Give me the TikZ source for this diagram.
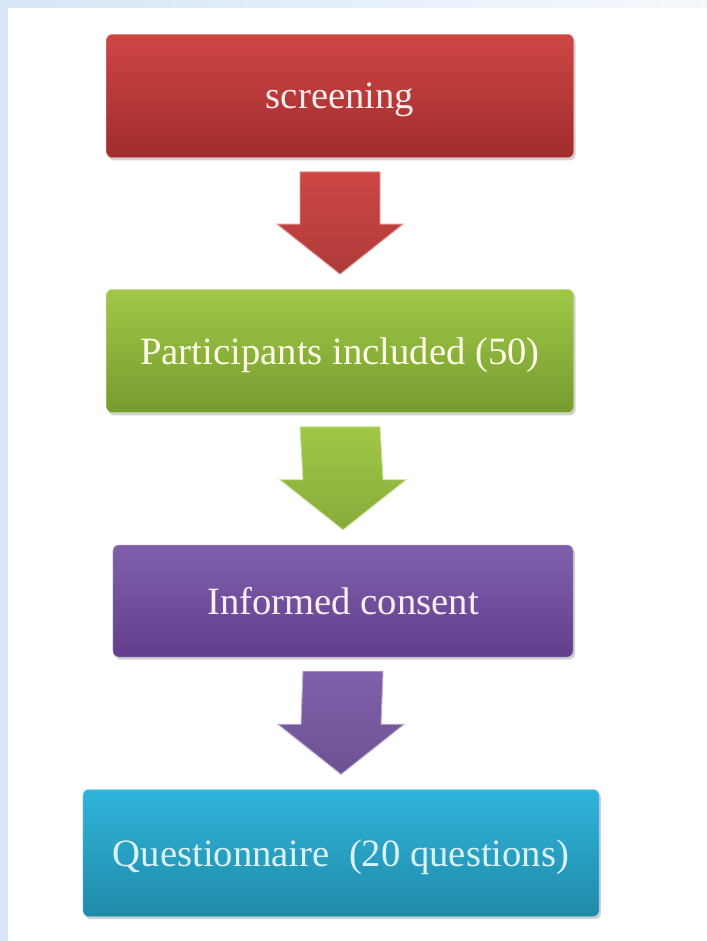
\documentclass[tikz,border=0pt]{standalone}
\usepackage{fontspec}
\setmainfont{Liberation Serif}
\usetikzlibrary{calc,shadows}

\definecolor{frameblue}{RGB}{214,230,247}
\definecolor{redtop}{RGB}{205,70,68}
\definecolor{redbot}{RGB}{160,44,44}
\definecolor{greentop}{RGB}{160,200,70}
\definecolor{greenbot}{RGB}{118,156,48}
\definecolor{purpletop}{RGB}{128,96,172}
\definecolor{purplebot}{RGB}{98,62,140}
\definecolor{tealtop}{RGB}{48,180,220}
\definecolor{tealbot}{RGB}{32,138,168}

\tikzset{
  stepbox/.style={rounded corners=5, minimum width=14.01cm, minimum height=3.7cm, text depth=0pt,
    font=\fontsize{33}{38}\selectfont, drop shadow={opacity=0.35, shadow xshift=0.6mm, shadow yshift=-0.8mm}},
  redbox/.style={stepbox, top color=redtop, bottom color=redbot, draw=redtop!60!white, text=red!8!white},
  greenbox/.style={stepbox, top color=greentop, bottom color=greenbot, draw=greentop!60!white, text=yellow!10!white},
  purplebox/.style={stepbox, top color=purpletop, bottom color=purplebot, draw=purpletop!60!white, text=violet!6!white},
  tealbox/.style={stepbox, top color=tealtop, bottom color=tealbot, draw=tealtop!60!white, text=cyan!15!white},
}

% block arrow from one box down to the next
\newcommand{\flowarrow}[3]{%
  \path[top color=#3top, bottom color=#3top!85!black, draw=#3top!55!white, line width=0.8pt]
    ($(#1.south)+(-40,14)$) -- ($(#1.south)+(40,14)$) -- ($(#2.north)+(40,-65)$)
    -- ($(#2.north)+(63,-65)$) -- ($(#2.north)+(0,-15)$) -- ($(#2.north)+(-63,-65)$)
    -- ($(#2.north)+(-40,-65)$) -- cycle;}

\begin{document}
\begin{tikzpicture}[x=0.03cm, y=-0.03cm]
  \useasboundingbox (0,0) rectangle (707,941);
  % Frame
  \fill[white] (0,0) rectangle (707,941);
  \shade[left color=frameblue, right color=frameblue!25!white] (0,0) rectangle (707,7);
  \fill[frameblue] (0,0) rectangle (8,941);

  % Steps
  \node[redbox] (screen) at (340,96) {screening};
  \node[greenbox] (particip) at (340,351) {Participants included (50)};
  \node[purplebox, minimum width=13.8cm, minimum height=3.36cm] (consent) at (343,601) {Informed consent};
  \node[tealbox, minimum width=15.48cm, minimum height=3.81cm] (quest) at (341,853) {Questionnaire~ (20 questions)};

  % Arrows
  \flowarrow{screen}{particip}{red}
  \flowarrow{particip}{consent}{green}
  \flowarrow{consent}{quest}{purple}
\end{tikzpicture}
\end{document}
